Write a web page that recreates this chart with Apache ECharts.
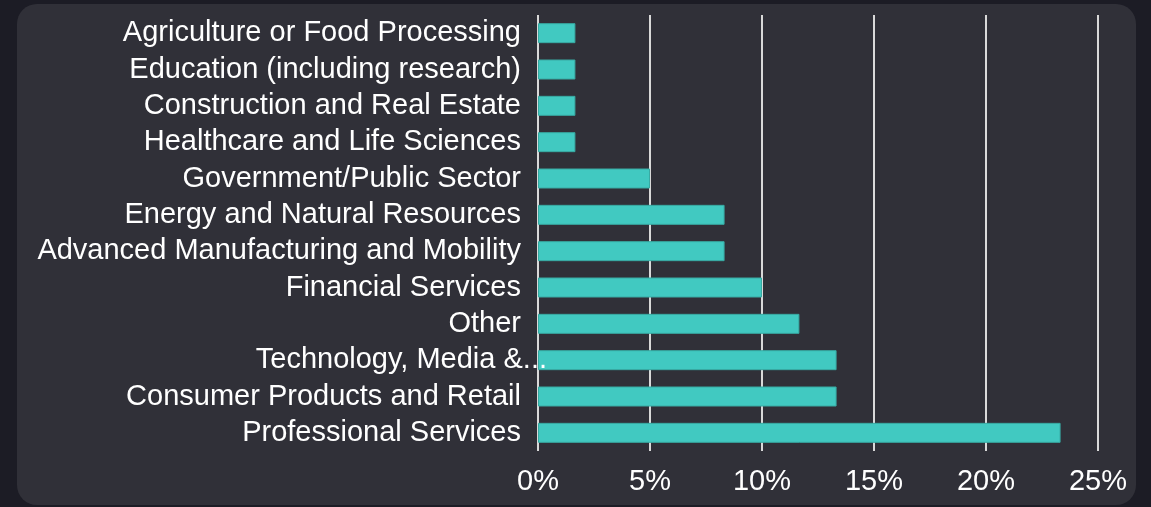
<!DOCTYPE html>
<html>
<head>
<meta charset="utf-8">
<script src="https://cdn.jsdelivr.net/npm/echarts@6/dist/echarts.min.js"></script>
<style>
  html, body { margin: 0; padding: 0; background: #1c1c25; }
  #panel {
    position: absolute; left: 17px; top: 4px; width: 1119px; height: 501px;
    background: #303038; border-radius: 20px;
  }
  #chart { position: absolute; left: 0; top: 0; width: 1151px; height: 507px; }
</style>
</head>
<body>
<div id="panel"></div>
<div id="chart"></div>
<script>
// bottom to top, as echarts draws category axes
var industries = [
  'Professional Services',
  'Consumer Products and Retail',
  'Technology, Media & Telecommunications',
  'Other',
  'Financial Services',
  'Advanced Manufacturing and Mobility',
  'Energy and Natural Resources',
  'Government/Public Sector',
  'Healthcare and Life Sciences',
  'Construction and Real Estate',
  'Education (including research)',
  'Agriculture or Food Processing'
];
var shares = [23.33, 13.33, 13.33, 11.67, 10, 8.33, 8.33, 5, 1.67, 1.67, 1.67, 1.67];
var tickValues = [0, 5, 10, 15, 20, 25];

var chart = echarts.init(document.getElementById('chart'));
var font = 'Liberation Sans, Arial, sans-serif';

var option = {
  backgroundColor: 'transparent',
  grid: { left: 538, right: 53, top: 15, bottom: 56, containLabel: false },
  xAxis: {
    type: 'value',
    min: tickValues[0],
    max: tickValues[tickValues.length - 1],
    interval: 5,
    axisLine: { show: false },
    axisTick: { show: false },
    axisLabel: {
      color: '#ffffff', fontFamily: font, fontSize: 29, margin: 16,
      formatter: '{value}%'
    },
    splitLine: { show: true, lineStyle: { color: '#d9d9d9', width: 2 } }
  },
  yAxis: {
    type: 'category',
    data: industries,
    z: 5,
    axisLine: { show: false },
    axisTick: { show: false },
    axisLabel: {
      interval: 0,
      hideOverlap: false,
      color: '#ffffff', fontFamily: font, fontSize: 29, margin: -9,
      formatter: function (v) {
        // the long label is cut and spills over the axis, as in the source
        if (v.indexOf('Technology') === 0) return '{t|Technology, Media &...}';
        return '{n|' + v + '}';
      },
      rich: {
        n: { color: '#ffffff', fontFamily: font, fontSize: 29, padding: [0, 26, 0, 0] },
        t: { color: '#ffffff', fontFamily: font, fontSize: 29 }
      }
    }
  },
  series: [{
    type: 'bar',
    data: shares,
    barWidth: 20,
    itemStyle: { color: '#41c9c1', borderColor: '#38aaa3', borderWidth: 1 },
    silent: true
  }]
};
chart.setOption(option);
</script>
</body>
</html>
